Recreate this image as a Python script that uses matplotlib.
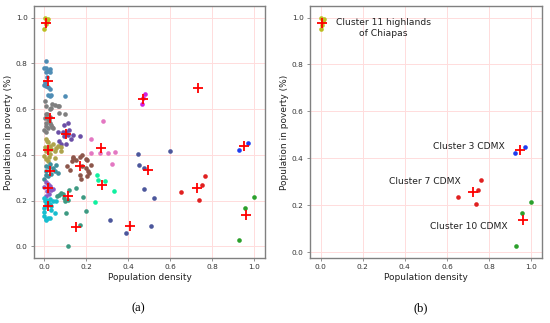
import numpy as np
from matplotlib import pyplot as plt

# clusters: (x, y) of municipalities
c11_x = [0.003, 0.018, 0.01, 0.008, 0.0]
c11_y = [1.0, 0.993, 0.985, 0.97, 0.951]

steel_x = [0.008, 0.0, 0.008, 0.024, 0.016, 0.008, 0.027, 0.0, 0.008, 0.016, 0.024, 0.016, 0.024, 0.032, 0.1, 0.004, 0.012]
steel_y = [0.808, 0.779, 0.779, 0.776, 0.765, 0.76, 0.76, 0.707, 0.702, 0.695, 0.688, 0.663, 0.658, 0.663, 0.656, 0.72, 0.74]

grey_x = [0.003, 0.008, 0.035, 0.048, 0.063, 0.068, 0.032, 0.024, 0.071, 0.1, 0.008, 0.003, 0.016, 0.008, 0.024,
          0.032, 0.037, 0.016, 0.0, 0.008, 0.04, 0.024, 0.012, 0.02, 0.005]
grey_y = [0.637, 0.615, 0.624, 0.619, 0.615, 0.612, 0.605, 0.598, 0.583, 0.576, 0.576, 0.562, 0.555, 0.54, 0.54,
          0.532, 0.52, 0.515, 0.508, 0.499, 0.515, 0.565, 0.58, 0.55, 0.525]

purple_x = [0.111, 0.095, 0.116, 0.103, 0.063, 0.087, 0.138, 0.167, 0.071, 0.079, 0.103, 0.127, 0.111, 0.095]
purple_y = [0.54, 0.532, 0.508, 0.499, 0.499, 0.499, 0.486, 0.484, 0.46, 0.445, 0.445, 0.467, 0.485, 0.48]

khaki_x = [0.008, 0.016, 0.024, 0.003, 0.016, 0.04, 0.056, 0.079, 0.008, 0.024, 0.048, 0.079, 0.048, 0.008, 0.016,
           0.0, 0.012, 0.03, 0.065, 0.02]
khaki_y = [0.47, 0.455, 0.44, 0.432, 0.422, 0.445, 0.43, 0.432, 0.415, 0.402, 0.415, 0.415, 0.385, 0.38, 0.371,
           0.395, 0.46, 0.425, 0.44, 0.39]

brown_x = [0.179, 0.138, 0.132, 0.108, 0.122, 0.171, 0.202, 0.222, 0.198, 0.206, 0.214, 0.171, 0.175, 0.202, 0.148,
           0.138, 0.179, 0.198]
brown_y = [0.352, 0.385, 0.371, 0.349, 0.332, 0.39, 0.378, 0.356, 0.342, 0.327, 0.32, 0.313, 0.294, 0.305, 0.378,
           0.391, 0.397, 0.38]

pink_x = [0.278, 0.222, 0.222, 0.262, 0.302, 0.337, 0.322]
pink_y = [0.549, 0.469, 0.408, 0.408, 0.408, 0.412, 0.36]

magenta_x = [0.479, 0.471, 0.465]
magenta_y = [0.666, 0.649, 0.624]

spring_x = [0.249, 0.254, 0.286, 0.333, 0.241]
spring_y = [0.313, 0.288, 0.284, 0.24, 0.193]

tealA_x = [0.008, 0.02, 0.008, 0.056, 0.063, 0.03, 0.015, 0.0, 0.04, 0.048, 0.025, 0.005]
tealA_y = [0.352, 0.345, 0.327, 0.356, 0.32, 0.315, 0.305, 0.295, 0.34, 0.33, 0.36, 0.31]

tealB_x = [0.079, 0.071, 0.06, 0.095, 0.111, 0.1, 0.119, 0.148, 0.183, 0.103, 0.198, 0.09, 0.167, 0.111]
tealB_y = [0.233, 0.225, 0.22, 0.211, 0.204, 0.196, 0.247, 0.255, 0.215, 0.145, 0.153, 0.23, 0.095, 0.0]

purple2_x = [0.008, 0.016, 0.0, 0.024, 0.032, 0.012, 0.04, 0.02, 0.005, 0.028]
purple2_y = [0.28, 0.27, 0.26, 0.255, 0.245, 0.24, 0.25, 0.23, 0.22, 0.265]

cyan_x = [0.0, 0.008, 0.016, 0.024, 0.04, 0.056, 0.008, 0.0, 0.024, 0.032, 0.048, 0.0, 0.008, 0.016, 0.024,
          0.005, 0.012, 0.03, 0.0, 0.004]
cyan_y = [0.211, 0.204, 0.196, 0.206, 0.2, 0.2, 0.18, 0.167, 0.185, 0.16, 0.145, 0.131, 0.119, 0.124, 0.124,
          0.113, 0.19, 0.175, 0.15, 0.2]

slate_x = [0.444, 0.449, 0.476, 0.476, 0.521, 0.598, 0.31, 0.389, 0.508]
slate_y = [0.403, 0.354, 0.342, 0.252, 0.211, 0.415, 0.114, 0.058, 0.087]

c7_x = [0.651, 0.736, 0.748, 0.764]
c7_y = [0.236, 0.204, 0.267, 0.308]

c10_x = [1.0, 0.957, 0.927]
c10_y = [0.216, 0.168, 0.026]

c3_x = [0.925, 0.971]
c3_y = [0.421, 0.45]

# centroids (red +)
cent_x = [0.006, 0.016, 0.024, 0.103, 0.016, 0.171, 0.267, 0.471, 0.275, 0.024, 0.111, 0.151, 0.018, 0.016,
          0.492, 0.408, 0.73, 0.724, 0.96, 0.949]
cent_y = [0.978, 0.721, 0.561, 0.489, 0.419, 0.349, 0.43, 0.645, 0.269, 0.327, 0.218, 0.083, 0.253, 0.175,
          0.332, 0.087, 0.692, 0.256, 0.137, 0.437]

# panel (b) centroids: clusters 11, 3, 7, 10
sel_cent_x = [0.006, 0.949, 0.724, 0.96]
sel_cent_y = [0.978, 0.437, 0.256, 0.137]

groups = [
    (c11_x, c11_y, '#bcbd22'),
    (steel_x, steel_y, '#4f8db5'),
    (grey_x, grey_y, '#7f7f7f'),
    (purple_x, purple_y, '#6b4fa6'),
    (khaki_x, khaki_y, '#aea34c'),
    (brown_x, brown_y, '#8c564b'),
    (pink_x, pink_y, '#e377c2'),
    (magenta_x, magenta_y, '#d01fe0'),
    (spring_x, spring_y, '#10f0a0'),
    (tealA_x, tealA_y, '#3f8f9c'),
    (tealB_x, tealB_y, '#3d9a82'),
    (purple2_x, purple2_y, '#8a5cc4'),
    (cyan_x, cyan_y, '#17becf'),
    (slate_x, slate_y, '#4c579c'),
    (c7_x, c7_y, '#e02020'),
    (c10_x, c10_y, '#2ca02c'),
    (c3_x, c3_y, '#1f3cf0'),
]

fig = plt.figure(figsize=(5.5, 3.23), dpi=100)
ax1 = fig.add_axes([0.0618, 0.2022, 0.42, 0.779])
ax2 = fig.add_axes([0.5636, 0.2022, 0.4214, 0.779])


def style(ax):
    ax.grid(True, color='#ffdcdc', linewidth=0.7)
    ax.set_axisbelow(True)
    for s in ax.spines.values():
        s.set_color('#808080')
        s.set_linewidth(1.0)
    ax.tick_params(labelsize=5.3, colors='#333333', length=2.5, width=0.6, pad=2)
    ax.tick_params(color='#808080')
    ax.set_xlabel('Population density', fontsize=6.5, color='#222222', labelpad=2)
    ax.set_ylabel('Population in poverty (%)', fontsize=6.5, color='#222222', labelpad=2)
    ax.set_xticks(np.arange(0, 1.01, 0.2))
    ax.set_yticks(np.arange(0, 1.01, 0.2))


for gx, gy, c in groups:
    ax1.scatter(gx, gy, s=11, color=c, linewidths=0, zorder=2)
ax1.scatter(cent_x, cent_y, s=45, marker='+', color='red', linewidths=1.3, zorder=3)
style(ax1)

for gx, gy, c in [groups[0], groups[14], groups[15], groups[16]]:
    ax2.scatter(gx, gy, s=11, color=c, linewidths=0, zorder=2)
ax2.scatter(sel_cent_x, sel_cent_y, s=45, marker='+', color='red', linewidths=1.3, zorder=3)
style(ax2)

ax2.text(0.30, 0.955, 'Cluster 11 highlands\nof Chiapas', fontsize=6.6, ha='center', va='center', color='#222222')
ax2.text(0.703, 0.452, 'Cluster 3 CDMX', fontsize=6.6, ha='center', va='center', color='#222222')
ax2.text(0.497, 0.30, 'Cluster 7 CDMX', fontsize=6.6, ha='center', va='center', color='#222222')
ax2.text(0.703, 0.111, 'Cluster 10 CDMX', fontsize=6.6, ha='center', va='center', color='#222222')

fig.text(138 / 550, 1 - 308 / 323, '(a)', fontsize=9, family='Liberation Serif', ha='center', va='center')
fig.text(421 / 550, 1 - 308 / 323, '(b)', fontsize=9, family='Liberation Serif', ha='center', va='center')

fig.savefig('out.png', dpi=100)
